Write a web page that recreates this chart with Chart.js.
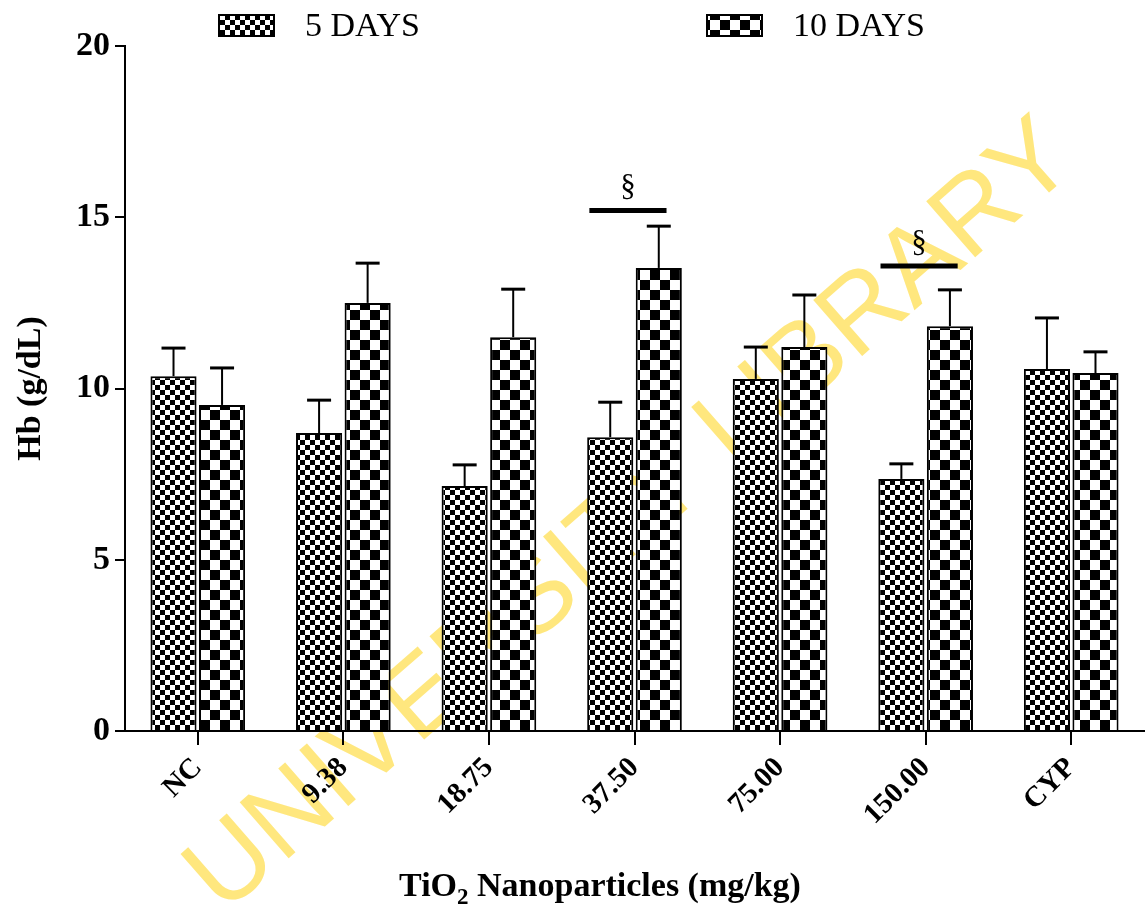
<!DOCTYPE html>
<html lang="en">
<head>
    <meta charset="UTF-8">
    <title>Hb (g/dL) - TiO2 Nanoparticles</title>
    <script src="https://cdn.jsdelivr.net/npm/chart.js@4.4.0/dist/chart.umd.min.js"></script>
    <style>
        html, body { margin: 0; padding: 0; background: #fff; }
        #wrap { width: 1147px; height: 907px; }
    </style>
</head>
<body>
    <div id="wrap"><canvas id="hbChart" width="1147" height="907"></canvas></div>

    <script>
        // data
        const groups = ['NC', '9.38', '18.75', '37.50', '75.00', '150.00', 'CYP'];
        const days5 = [10.36, 8.70, 7.15, 8.58, 10.28, 7.36, 10.57];
        const days5Err = [0.82, 0.96, 0.62, 1.02, 0.93, 0.44, 1.49];
        const days10 = [9.52, 12.50, 11.50, 13.52, 11.21, 11.82, 10.45];
        const days10Err = [1.08, 1.16, 1.40, 1.22, 1.52, 1.06, 0.62];
        const seriesLabels = ['5 DAYS', '10 DAYS'];
        const yTicks = [0, 5, 10, 15, 20];
        // significance marks: group index and height of the line
        const sigGroups = [3, 5];
        const sigLevels = [15.2, 13.58];

        const SERIF = "'Liberation Serif', 'DejaVu Serif', serif";

        // checkerboard fills
        function checker(cell) {
            const c = document.createElement('canvas');
            c.width = cell * 2; c.height = cell * 2;
            const g = c.getContext('2d');
            g.fillStyle = '#fff';
            g.fillRect(0, 0, c.width, c.height);
            g.fillStyle = '#000';
            g.fillRect(0, 0, cell, cell);
            g.fillRect(cell, cell, cell, cell);
            return document.getElementById('hbChart').getContext('2d').createPattern(c, 'repeat');
        }
        const smallCheck = checker(5);
        const bigCheck = checker(10);

        // watermark behind everything
        const watermark = {
            id: 'watermark',
            beforeDraw(chart) {
                const ctx = chart.ctx;
                ctx.save();
                ctx.fillStyle = '#fff';
                ctx.fillRect(0, 0, chart.width, chart.height);
                ctx.translate(632, 518);
                ctx.rotate(-41.2 * Math.PI / 180);
                ctx.font = "108px 'Liberation Sans', Arial, sans-serif";
                ctx.fillStyle = '#FFE77E';
                ctx.textAlign = 'center';
                ctx.textBaseline = 'middle';
                ctx.fillText('UNIVERSITY LIBRARY', 0, 0);
                ctx.restore();
            }
        };

        // upward error bars with caps
        const errorBars = {
            id: 'errorBars',
            afterDatasetsDraw(chart) {
                const ctx = chart.ctx;
                const y = chart.scales.y;
                const errs = [days5Err, days10Err];
                ctx.save();
                ctx.strokeStyle = '#000';
                chart.data.datasets.forEach((ds, di) => {
                    chart.getDatasetMeta(di).data.forEach((bar, i) => {
                        const top = y.getPixelForValue(ds.data[i] + errs[di][i]);
                        ctx.lineWidth = 2;
                        ctx.beginPath();
                        ctx.moveTo(bar.x, bar.y);
                        ctx.lineTo(bar.x, top);
                        ctx.stroke();
                        ctx.lineWidth = 3;
                        ctx.beginPath();
                        ctx.moveTo(bar.x - 12, top);
                        ctx.lineTo(bar.x + 12, top);
                        ctx.stroke();
                    });
                });
                ctx.restore();
            }
        };

        // § lines over groups
        const sigMarks = {
            id: 'sigMarks',
            afterDatasetsDraw(chart) {
                const ctx = chart.ctx;
                const x = chart.scales.x, y = chart.scales.y;
                const step = x.getPixelForValue(1) - x.getPixelForValue(0);
                ctx.save();
                sigGroups.forEach((g, k) => {
                    const cx = x.getPixelForValue(g);
                    const py = y.getPixelForValue(sigLevels[k]);
                    const x0 = cx - step * 0.31, x1 = cx + step * 0.22;
                    ctx.lineWidth = 5;
                    ctx.strokeStyle = '#000';
                    ctx.beginPath();
                    ctx.moveTo(x0, py);
                    ctx.lineTo(x1, py);
                    ctx.stroke();
                    ctx.fillStyle = '#000';
                    ctx.font = '31px ' + SERIF;
                    ctx.textAlign = 'center';
                    ctx.textBaseline = 'alphabetic';
                    ctx.fillText('§', (x0 + x1) / 2, py - 14);
                });
                ctx.restore();
            }
        };

        // legend row at the top + x axis title with a real subscript
        const topLegend = {
            id: 'topLegend',
            afterDraw(chart) {
                const ctx = chart.ctx;
                const spots = [219, 707];
                ctx.save();
                chart.data.datasets.forEach((ds, i) => {
                    const bx = spots[i];
                    ctx.fillStyle = ds.backgroundColor;
                    ctx.fillRect(bx, 15, 55, 21);
                    ctx.lineWidth = 2;
                    ctx.strokeStyle = '#000';
                    ctx.strokeRect(bx, 15, 55, 21);
                    ctx.fillStyle = '#000';
                    ctx.font = '34px ' + SERIF;
                    ctx.textBaseline = 'middle';
                    ctx.textAlign = 'left';
                    ctx.fillText(ds.label, bx + 86, 27);
                });

                // "TiO2 Nanoparticles (mg/kg)"
                const big = 'bold 34px ' + SERIF, small = 'bold 23px ' + SERIF;
                const parts = [['TiO', big, 0], ['2', small, 8], [' Nanoparticles (mg/kg)', big, 0]];
                let total = 0;
                parts.forEach(p => { ctx.font = p[1]; total += ctx.measureText(p[0]).width; });
                let px = 600 - total / 2;
                ctx.textAlign = 'left';
                ctx.textBaseline = 'alphabetic';
                parts.forEach(p => {
                    ctx.font = p[1];
                    ctx.fillText(p[0], px, 896 + p[2]);
                    px += ctx.measureText(p[0]).width;
                });
                ctx.restore();
            }
        };

        new Chart(document.getElementById('hbChart'), {
            type: 'bar',
            data: {
                labels: groups,
                datasets: [
                    {
                        label: seriesLabels[0],
                        data: days5,
                        backgroundColor: smallCheck,
                        borderColor: '#000',
                        borderWidth: 2,
                        barPercentage: 0.95,
                        categoryPercentage: 0.667
                    },
                    {
                        label: seriesLabels[1],
                        data: days10,
                        backgroundColor: bigCheck,
                        borderColor: '#000',
                        borderWidth: 2,
                        barPercentage: 0.95,
                        categoryPercentage: 0.667
                    }
                ]
            },
            options: {
                responsive: false,
                animation: false,
                layout: { padding: { top: 46, right: 3, bottom: 0, left: 0 } },
                plugins: {
                    legend: { display: false },
                    tooltip: { enabled: false }
                },
                scales: {
                    x: {
                        grid: { offset: false, drawOnChartArea: false, drawTicks: true, tickLength: 14, color: '#000', lineWidth: 2 },
                        border: { display: true, color: '#000', width: 2 },
                        ticks: {
                            color: '#000',
                            autoSkip: false,
                            maxRotation: 45,
                            minRotation: 45,
                            padding: 6,
                            font: { family: SERIF, size: 29, weight: 'bold' }
                        },
                        afterFit(scale) { scale.height = 176; }
                    },
                    y: {
                        min: 0,
                        max: 20,
                        afterBuildTicks(scale) { scale.ticks = yTicks.map(v => ({ value: v })); },
                        grid: { drawOnChartArea: false, drawTicks: true, tickLength: 10, color: '#000', lineWidth: 2 },
                        border: { display: true, color: '#000', width: 2 },
                        ticks: {
                            color: '#000',
                            padding: 5,
                            font: { family: SERIF, size: 34, weight: 'bold' }
                        },
                        title: {
                            display: true,
                            text: 'Hb (g/dL)',
                            color: '#000',
                            font: { family: SERIF, size: 34, weight: 'bold' },
                            padding: { top: 11, bottom: 0 }
                        },
                        afterFit(scale) { scale.width = 125; }
                    }
                }
            },
            plugins: [watermark, errorBars, sigMarks, topLegend]
        });
    </script>
</body>
</html>
